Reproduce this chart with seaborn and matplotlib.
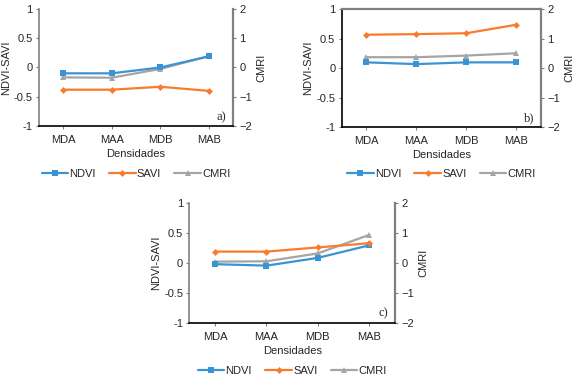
import pandas as pd
import matplotlib
matplotlib.use("Agg")

import matplotlib.pyplot as plt
import seaborn as sns

# datos
densidades = ["MDA", "MAA", "MDB", "MAB"]

ndvi_a = [-0.10, -0.10, 0.00, 0.19]
savi_a = [-0.38, -0.38, -0.33, -0.40]
cmri_a = [-0.34, -0.35, -0.05, 0.39]

ndvi_b = [0.10, 0.07, 0.10, 0.10]
savi_b = [0.57, 0.58, 0.595, 0.74]
cmri_b = [0.375, 0.375, 0.43, 0.51]

ndvi_c = [-0.02, -0.045, 0.085, 0.295]
savi_c = [0.19, 0.19, 0.26, 0.33]
cmri_c = [0.045, 0.055, 0.32, 0.94]

left_ticks = [-1, -0.5, 0, 0.5, 1]
left_ticklabels = ["-1", "-0.5", "0", "0.5", "1"]
right_ticks = [-2, -1, 0, 1, 2]

c_ndvi = "#3a94d3"
c_savi = "#f97c2c"
c_cmri = "#a5a5a5"
gris = "#808080"

sns.set_style("white")
plt.rcParams["font.family"] = ["Liberation Sans", "DejaVu Sans"]
fs = 8

fig = plt.figure(figsize=(5.74, 3.77), dpi=100)


def panel(rect, ndvi, savi, cmri, letra, left_color, top_visible, leg_y):
    ax = fig.add_axes(rect)
    df = pd.DataFrame({"Densidades": densidades, "NDVI": ndvi, "SAVI": savi, "CMRI": cmri})

    sns.lineplot(data=df, x="Densidades", y="NDVI", ax=ax, color=c_ndvi, lw=1.6,
                 marker="s", markersize=4.5, markeredgewidth=0, label="NDVI", sort=False)
    sns.lineplot(data=df, x="Densidades", y="SAVI", ax=ax, color=c_savi, lw=1.6,
                 marker="D", markersize=3.5, markeredgewidth=0, label="SAVI", sort=False)
    ax2 = ax.twinx()
    sns.lineplot(data=df, x="Densidades", y="CMRI", ax=ax2, color=c_cmri, lw=1.6,
                 marker="^", markersize=5, markeredgewidth=0, label="CMRI", sort=False)
    # llevar CMRI detras
    ax2.set_zorder(ax.get_zorder() - 1)
    ax.patch.set_visible(False)

    ax.set_xlim(-0.5, 3.5)
    ax.set_ylim(-1, 1)
    ax2.set_ylim(-2, 2)
    ax.set_yticks(left_ticks)
    ax.set_yticklabels(left_ticklabels)
    ax2.set_yticks(right_ticks)

    ax.set_xlabel("Densidades", fontsize=fs, labelpad=3)
    ax.set_ylabel("NDVI-SAVI", fontsize=fs, labelpad=2)
    ax2.set_ylabel("CMRI", fontsize=fs, labelpad=3)

    ax.tick_params(axis="x", labelsize=fs, length=2.5, width=0.8, color=gris, pad=4, bottom=True)
    ax.tick_params(axis="y", labelsize=fs, length=2.5, width=0.8, color=gris, pad=2, left=True)
    ax2.tick_params(axis="y", labelsize=fs, length=2.5, width=0.8, color=gris, pad=2, right=True)

    for a in (ax, ax2):
        for s in a.spines.values():
            s.set_visible(False)
    ax.spines["bottom"].set_visible(True)
    ax.spines["bottom"].set_color("black")
    ax.spines["bottom"].set_linewidth(1.2)
    ax.spines["left"].set_visible(True)
    ax.spines["left"].set_color(left_color)
    ax.spines["left"].set_linewidth(1.2)
    ax2.spines["right"].set_visible(True)
    ax2.spines["right"].set_color(gris)
    ax2.spines["right"].set_linewidth(1.6)
    if top_visible:
        ax.spines["top"].set_visible(True)
        ax.spines["top"].set_color(gris)
        ax.spines["top"].set_linewidth(1.6)

    ax.text(0.965, 0.075, letra, transform=ax.transAxes, ha="right", va="center",
            fontsize=9, family=["Liberation Serif", "DejaVu Serif"])

    h1, l1 = ax.get_legend_handles_labels()
    h2, l2 = ax2.get_legend_handles_labels()
    if ax2.get_legend():
        ax2.get_legend().remove()
    ax.legend(h1 + h2, l1 + l2, loc="center", bbox_to_anchor=(0.5, leg_y), ncol=3,
              frameon=False, fontsize=fs, handlelength=2.4, handletextpad=0.1,
              columnspacing=1.2)
    return ax


panel([0.068, 0.666, 0.338, 0.310], ndvi_a, savi_a, cmri_a, "a)", gris, False, -0.41)
panel([0.595, 0.663, 0.348, 0.312], ndvi_b, savi_b, cmri_b, "b)", "black", True, -0.40)
panel([0.330, 0.144, 0.358, 0.317], ndvi_c, savi_c, cmri_c, "c)", gris, False, -0.40)

plt.savefig("out.png", dpi=100)
